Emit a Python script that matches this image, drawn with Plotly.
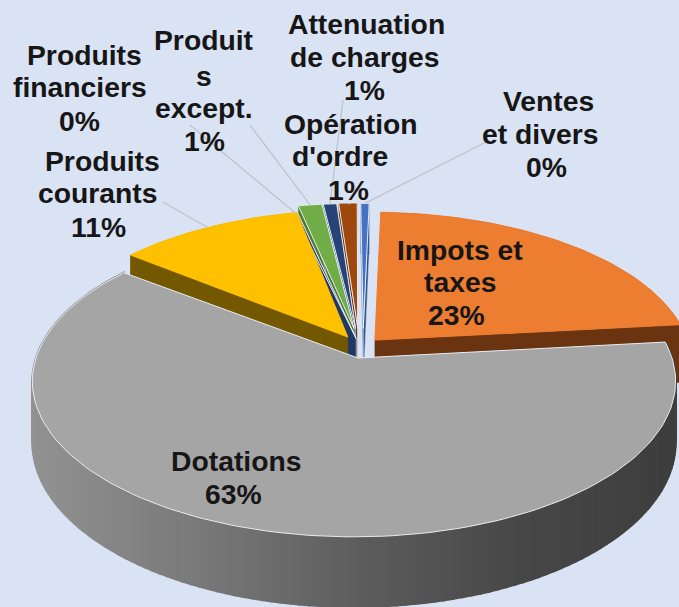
import math
import plotly.graph_objects as go

# --- data (clockwise from 12 o'clock)
slice_names = ["Ventes et divers", "Impots et taxes", "Dotations", "Produits courants",
               "Produits financiers", "Produits except.", "Attenuation de charges", "Opération d'ordre"]
slice_values = [0.5, 22.8, 62.2, 11.0, 0.2, 1.4, 0.8, 1.1]
slice_colors = ["#4472C4", "#ED7D31", "#A5A5A5", "#FFC000", "#264478", "#70AD47", "#264478", "#9E480E"]
side_colors = ["#2F5597", "#6B3410", "#707070", "#735800", "#1F3864", "#4E7A31", "#1F3864", "#6E320A"]
explode_x = [0.025, 0.067, 0.0, 0.008, 0.0, 0.0, 0.005, 0.012]
explode_y = [0.2, 0.12, 0.0, 0.141, 0.13, 0.2, 0.2, 0.205]
apex_nudge = [0.005, 0.0, 0.0125, -0.028, 0.007, 0.0, 0.0, 0.0]
cut_faces = [(0, 1), (1,), (), (0,), (0, 1), (0, 1), (0, 1), (0, 1)]

label_lines = [
    ("Attenuation", 366, 24), ("de charges", 364, 57), ("1%", 364, 90),
    ("Produit", 204, 40), ("s", 204, 76), ("except.", 204, 108), ("1%", 204, 141),
    ("Produits", 84, 55), ("financiers", 80, 87), ("0%", 79, 121),
    ("Produits", 102, 161), ("courants", 98, 193), ("11%", 98, 227),
    ("Opération", 351, 124), ("d'ordre", 340, 156), ("1%", 348, 190),
    ("Ventes", 548, 101), ("et divers", 540, 134), ("0%", 546, 167),
    ("Impots et", 460, 250), ("taxes", 460, 282), ("23%", 456, 315),
    ("Dotations", 236, 461), ("63%", 233, 494),
]
# label-side start of each leader, with the slice it points at
leaders = [(3, 163, 202), (4, 190, 125), (5, 250, 125), (6, 343, 100), (7, 350, 204), (0, 490, 140)]

# --- projection
CX, CY, A, B, K, H = 354.0, 358.0, 318.0, 152.0, 0.15, 59.6
BG = "#DAE3F3"


def proj(X, Y, Z=0.0):
    w = 1 + K * Y
    return CX + A * X / w, CY - (B * Y + H * Z) / w


def rim(i, deg, Z=0.0):
    t = math.radians(deg)
    return proj(math.sin(t) + explode_x[i], math.cos(t) + explode_y[i], Z)


def apex(i, Z=0.0):
    return proj(explode_x[i] + apex_nudge[i], explode_y[i], Z)


total = sum(slice_values)
starts = []
acc = 0.0
for v in slice_values:
    starts.append(acc)
    acc += v / total * 360.0
ends = starts[1:] + [360.0]

fig = go.Figure()


def poly(pts, fill, line=None, width=0.0):
    fig.add_trace(go.Scatter(
        x=[p[0] for p in pts] + [pts[0][0]], y=[p[1] for p in pts] + [pts[0][1]],
        mode="lines", fill="toself", fillcolor=fill,
        line=dict(color=line or fill, width=width), hoverinfo="skip", showlegend=False))


def arc(i, n, Z=0.0):
    return [rim(i, starts[i] + (ends[i] - starts[i]) * j / n, Z) for j in range(n + 1)]


def gray_shade(x):
    u = min(max((x - 35) / 640, 0), 1)
    stops = [(0, 146), (0.25, 122), (0.5, 94), (0.75, 72), (1, 62)]
    for (a, ca), (b, cb) in zip(stops, stops[1:]):
        if u <= b:
            c = int(ca + (cb - ca) * (u - a) / (b - a))
            return f"rgb({c},{c},{c})"
    return "rgb(62,62,62)"


paint_order = [0, 7, 6, 5, 4, 1, 3, 2]
for i in paint_order:
    n = max(4, int((ends[i] - starts[i]) / 1.5))
    top = arc(i, n)
    bottom = arc(i, n, -1.0)
    if i == 2:
        steps = 150
        for j in range(steps):
            d0 = starts[i] + (ends[i] - starts[i]) * j / steps
            d1 = starts[i] + (ends[i] - starts[i]) * (j + 1) / steps
            q = [rim(i, d0), rim(i, d1), rim(i, d1, -1.0), rim(i, d0, -1.0)]
            c = gray_shade(sum(p[0] for p in q) / 4)
            poly(q, c, c, 2.0)
    else:
        for e in cut_faces[i]:
            d = (starts[i], ends[i])[e]
            poly([apex(i), rim(i, d), rim(i, d, -1.0), apex(i, -1.0)], side_colors[i],
                 side_colors[i] if i in (1, 3) else "#DDE3EC", 0.5)
        poly(top + bottom[::-1], side_colors[i])
    poly([apex(i)] + top, slice_colors[i], "#E8ECF2" if i in (2, 4, 5, 6, 7, 0) else slice_colors[i], 1.0)

# leaders
for i, lx, ly in leaders:
    ex, ey = rim(i, (starts[i] + ends[i]) / 2)
    fig.add_trace(go.Scatter(x=[lx, ex], y=[ly, ey], mode="lines",
                             line=dict(color="#BFC3C9", width=1.3),
                             hoverinfo="skip", showlegend=False))

annotations = [dict(x=x, y=y, text=f"<b>{t}</b>", showarrow=False, xanchor="center", yanchor="middle",
                    font=dict(family="Liberation Sans", size=28.3, color="#161616"))
               for t, x, y in label_lines]

fig.update_layout(
    width=679, height=607, margin=dict(l=0, r=0, t=0, b=0),
    paper_bgcolor=BG, plot_bgcolor=BG, showlegend=False,
    xaxis=dict(range=[0, 679], visible=False, fixedrange=True),
    yaxis=dict(range=[607, 0], visible=False, fixedrange=True),
    annotations=annotations,
)
fig.write_html("out.html", config={"displayModeBar": False},
               post_script="document.body.style.margin='0';document.documentElement.style.overflow='hidden';")
